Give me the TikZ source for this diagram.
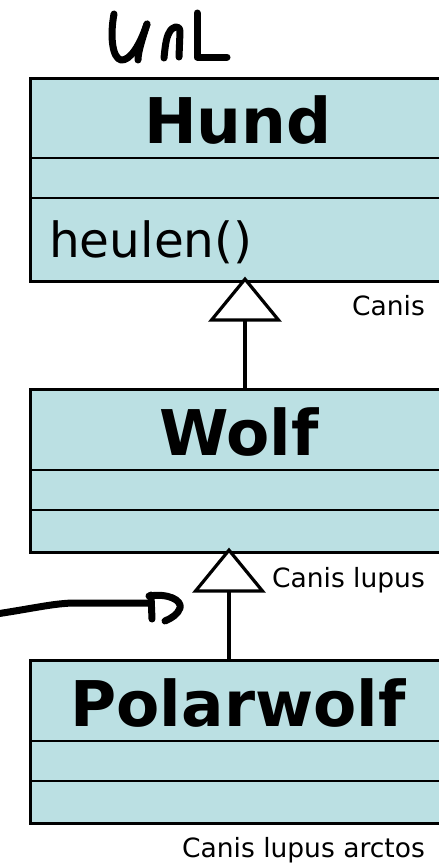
\documentclass[tikz,border=0pt]{standalone}
\usepackage{fontspec}
\setmainfont{DejaVu Sans}
\usetikzlibrary{arrows.meta}
\definecolor{classfill}{RGB}{187,224,227}
\tikzset{
  classbox/.style={draw=black, line width=2.6pt, fill=classfill, rectangle, inner sep=0pt, minimum width=418pt, anchor=north west},
  divider/.style={draw=black, line width=2.6pt},
  titletext/.style={font=\fontsize{63}{70}\selectfont\bfseries, inner sep=0pt, anchor=base},
  methodtext/.style={font=\fontsize{48.5}{52}\selectfont, inner sep=0pt, anchor=base west},
  labeltext/.style={font=\fontsize{26.5}{30}\selectfont, inner sep=0pt, anchor=base east},
  inherit/.style={draw=black, line width=3.2pt, -{Triangle[open, length=45pt, width=73pt, line width=3.2pt, fill=white]}},
  hand/.style={draw=black, line width=7pt, line cap=round, line join=round},
}
\begin{document}
\begin{tikzpicture}[x=1pt, y=-1pt]
\useasboundingbox (0,0) rectangle (439,863);
\clip (0,0) rectangle (439,863);
% classes
\node[classbox, minimum height=203pt] (hund) at (29,77) {};
\node[classbox, minimum height=163pt] (wolf) at (29,388) {};
\node[classbox, minimum height=163pt] (polar) at (29,659) {};
% dividers
\draw[divider] (29,158) -- (447,158);
\draw[divider] (29,198) -- (447,198);
\draw[divider] (29,470) -- (447,470);
\draw[divider] (29,510) -- (447,510);
\draw[divider] (29,741) -- (447,741);
\draw[divider] (29,781) -- (447,781);
% texts
\node[titletext] (thund) at (238,143) {Hund};
\node[methodtext] (heulen) at (49,257) {heulen()};
\node[titletext] (twolf) at (239,455) {Wolf};
\node[titletext] (tpolar) at (238,726) {Polarwolf};
\node[labeltext] (lcanis) at (425,315) {Canis};
\node[labeltext] (llupus) at (425,587) {Canis lupus};
\node[labeltext] (larctos) at (425,857) {Canis lupus arctos};
% inheritance
\draw[inherit] ([xshift=216pt]wolf.north west) -- ([xshift=216pt,yshift=6pt]hund.south west);
\draw[inherit] ([xshift=200pt]polar.north west) -- ([xshift=200pt,yshift=6pt]wolf.south west);
% handwritten UML
\draw[hand] (114,14) .. controls (110,35) and (112,58) .. (121,60) .. controls (130,61) and (140,45) .. (147,24);
\draw[hand] (147,24) .. controls (142,40) and (138,52) .. (138,60);
\draw[hand] (164,58) .. controls (165,48) and (166,38) .. (169,33) .. controls (172,26) and (180,24) .. (180,32) -- (179,57);
\draw[hand] (197,13) -- (197,57) -- (227,57);
% handwritten arrow
\coordinate (hstart) at (-4,614);
\coordinate (hend) at (150,603);
\draw[hand] (hstart) .. controls (30,609) and (55,603) .. (75,603) -- (hend);
\draw[hand] (151,595) -- (152,619);
\draw[hand] (149,596) .. controls (168,593) and (182,600) .. (180,608) .. controls (178,614) and (172,618) .. (165,621);
\end{tikzpicture}
\end{document}
